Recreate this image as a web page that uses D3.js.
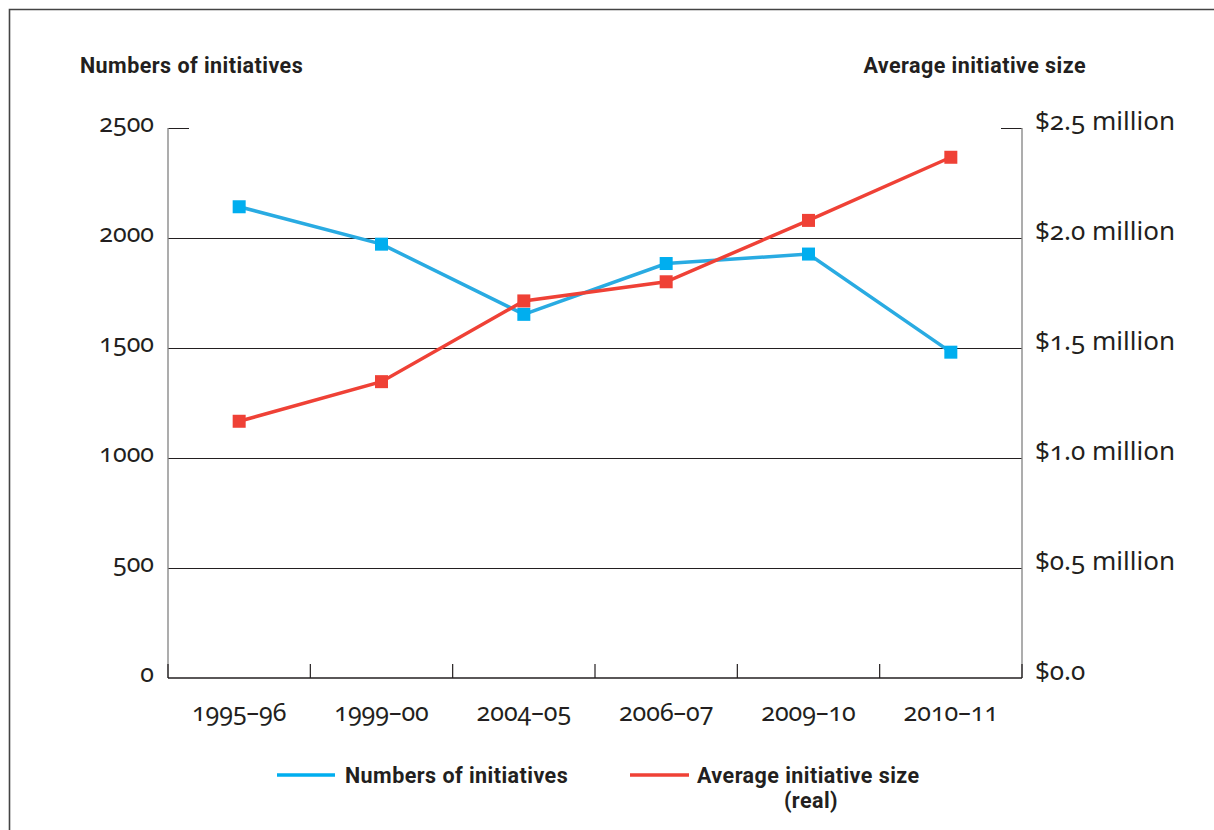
<!DOCTYPE html>
<html>
<head>
<meta charset="utf-8">
<script src="https://cdn.jsdelivr.net/npm/d3@7"></script>
<style>
  html, body { margin: 0; padding: 0; background: #fff; }
  svg { display: block; }
  .tick-lbl { font-family: "Noto Sans", "Open Sans", sans-serif; font-variant-numeric: oldstyle-nums; font-feature-settings: "onum"; fill: #231f20; }
  .bold { font-family: Roboto, "Noto Sans", sans-serif; font-weight: 700; fill: #231f20; letter-spacing: 0.45px; }
</style>
</head>
<body>
<svg id="chart" width="1214" height="830"></svg>
<script>
const categories = ["1995–96", "1999–00", "2004–05", "2006–07", "2009–10", "2010–11"];
const initiatives = [2142, 1972, 1653, 1884, 1927, 1481];
const avgSize = [1.167, 1.347, 1.714, 1.801, 2.080, 2.367];
const leftTicks = [0, 500, 1000, 1500, 2000, 2500];
const rightTicks = [0, 0.5, 1.0, 1.5, 2.0, 2.5];
const rightTickLabels = ["$0.0", "$0.5 million", "$1.0 million", "$1.5 million", "$2.0 million", "$2.5 million"];

const BLUE = "#00aeef", BLUE_LINE = "#29abe2", RED = "#ef4136";
const svg = d3.select("#chart");
const L = 168, R = 1022, T = 128, B = 678;

// frame
svg.append("path").attr("d", "M9.5,830 L9.5,9.5 L1214,9.5").attr("fill", "none").attr("stroke", "#444").attr("stroke-width", 1.6);

const x = d3.scaleBand().domain(categories).range([L, R]);
const yL = d3.scaleLinear().domain([0, 2500]).range([B, T]);
const yR = d3.scaleLinear().domain([0, 2.5]).range([B, T]);

// gridlines
svg.append("g").attr("shape-rendering", "crispEdges").selectAll("line").data(leftTicks.filter(d => d > 0 && d < 2500)).join("line")
  .attr("x1", L).attr("x2", R).attr("y1", d => yL(d) + 0.5).attr("y2", d => yL(d) + 0.5)
  .attr("stroke", "#231f20").attr("stroke-width", 1);
// top short ticks
svg.append("line").attr("shape-rendering", "crispEdges").attr("x1", L).attr("x2", L + 21).attr("y1", yL(2500) + 0.5).attr("y2", yL(2500) + 0.5).attr("stroke", "#231f20");
svg.append("line").attr("shape-rendering", "crispEdges").attr("x1", R - 21).attr("x2", R).attr("y1", yR(2.5) + 0.5).attr("y2", yR(2.5) + 0.5).attr("stroke", "#231f20");
// vertical axes
svg.append("line").attr("x1", L).attr("x2", L).attr("y1", T).attr("y2", B).attr("stroke", "#8a8a8a").attr("stroke-width", 1.4);
svg.append("line").attr("x1", R).attr("x2", R).attr("y1", T).attr("y2", B).attr("stroke", "#8a8a8a").attr("stroke-width", 1.4);
// baseline
svg.append("line").attr("x1", L).attr("x2", R).attr("y1", B).attr("y2", B).attr("stroke", "#231f20").attr("stroke-width", 1.5);
// x ticks (band boundaries)
const bounds = categories.map(c => x(c)).concat([R]);
svg.append("g").selectAll("line").data(bounds).join("line")
  .attr("x1", d => d).attr("x2", d => d).attr("y1", B).attr("y2", B - 14)
  .attr("stroke", "#231f20").attr("stroke-width", 1.2);

// left tick labels
svg.append("g").selectAll("text").data(leftTicks).join("text")
  .attr("class", "tick-lbl").attr("x", 154).attr("y", d => yL(d) - 6)
  .attr("text-anchor", "end").attr("dominant-baseline", "central")
  .attr("font-size", 25).text(d => d);
// right tick labels
svg.append("g").selectAll("text").data(rightTicks).join("text")
  .attr("class", "tick-lbl").attr("x", 1035).attr("y", d => yR(d) - 8)
  .attr("text-anchor", "start").attr("dominant-baseline", "central")
  .attr("font-size", 26).text((d, i) => rightTickLabels[i]);
// x labels
svg.append("g").selectAll("text").data(categories).join("text")
  .attr("class", "tick-lbl").attr("x", d => x(d) + x.bandwidth() / 2).attr("y", 711)
  .attr("text-anchor", "middle").attr("dominant-baseline", "central")
  .attr("font-size", 25).text(d => d);

// titles
svg.append("text").attr("class", "bold").attr("x", 80).attr("y", 65).attr("dominant-baseline", "central")
  .attr("font-size", 21.5).text("Numbers of initiatives");
svg.append("text").attr("class", "bold").attr("x", 1086).attr("y", 65).attr("text-anchor", "end").attr("dominant-baseline", "central")
  .attr("font-size", 21.5).text("Average initiative size");

// lines
const cx = d => x(d) + x.bandwidth() / 2;
const lineL = d3.line().x((d, i) => cx(categories[i])).y(d => yL(d));
const lineR = d3.line().x((d, i) => cx(categories[i])).y(d => yR(d));
svg.append("path").attr("d", lineL(initiatives)).attr("fill", "none").attr("stroke", BLUE_LINE).attr("stroke-width", 3.5);
svg.append("path").attr("d", lineR(avgSize)).attr("fill", "none").attr("stroke", RED).attr("stroke-width", 3.5);
const M = 13;
svg.append("g").selectAll("rect").data(initiatives).join("rect")
  .attr("x", (d, i) => cx(categories[i]) - M / 2).attr("y", d => yL(d) - M / 2)
  .attr("width", M).attr("height", M).attr("fill", BLUE);
svg.append("g").selectAll("rect").data(avgSize).join("rect")
  .attr("x", (d, i) => cx(categories[i]) - M / 2).attr("y", d => yR(d) - M / 2)
  .attr("width", M).attr("height", M).attr("fill", RED);

// legend
svg.append("line").attr("x1", 277).attr("x2", 335).attr("y1", 775).attr("y2", 775).attr("stroke", BLUE).attr("stroke-width", 3.5);
svg.append("text").attr("class", "bold").attr("x", 345).attr("y", 775).attr("dominant-baseline", "central")
  .attr("font-size", 21.5).text("Numbers of initiatives");
svg.append("line").attr("x1", 630).attr("x2", 689).attr("y1", 775).attr("y2", 775).attr("stroke", RED).attr("stroke-width", 3.5);
svg.append("text").attr("class", "bold").attr("x", 697).attr("y", 775).attr("dominant-baseline", "central")
  .attr("font-size", 21.5).text("Average initiative size");
svg.append("text").attr("class", "bold").attr("x", 811).attr("y", 800).attr("text-anchor", "middle").attr("dominant-baseline", "central")
  .attr("font-size", 21.5).text("(real)");
</script>
</body>
</html>
